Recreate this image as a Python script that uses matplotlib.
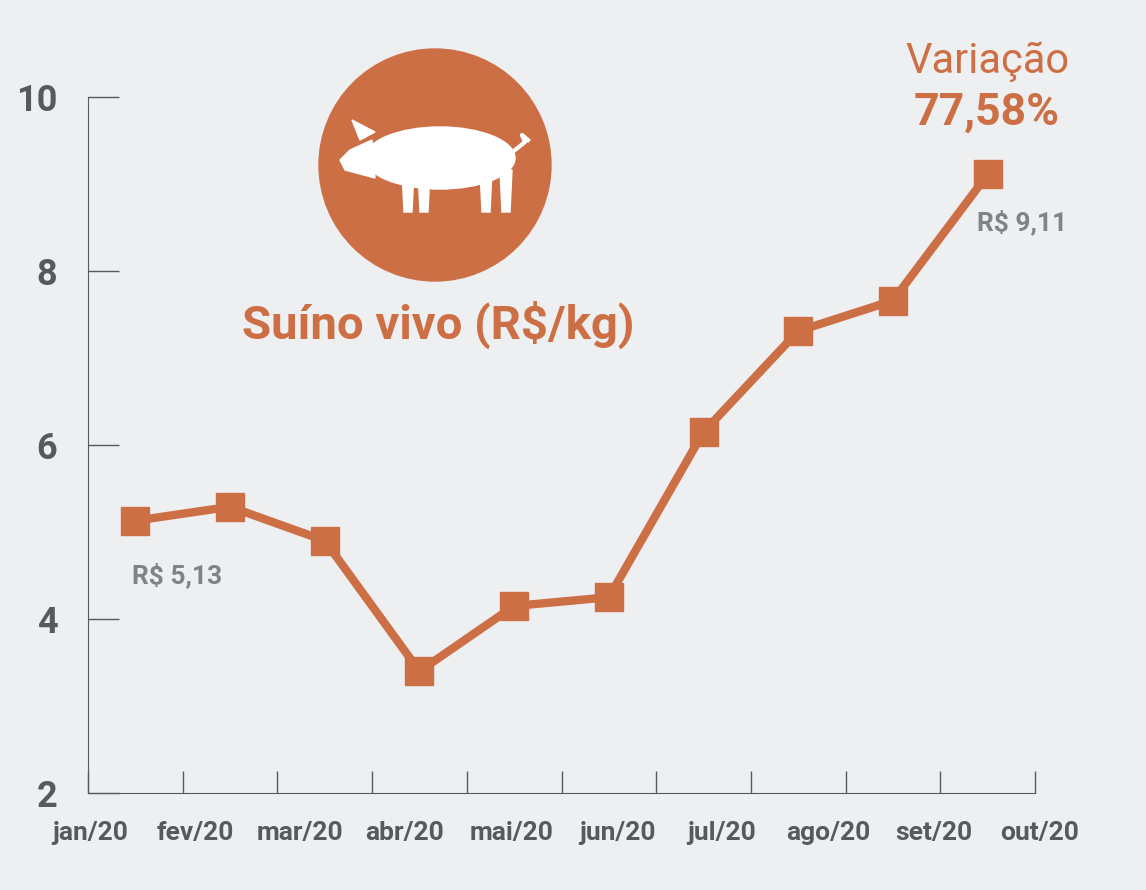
import matplotlib
matplotlib.use("Agg")
import matplotlib.pyplot as plt
from matplotlib.patches import Circle, Ellipse, Polygon
from matplotlib import font_manager

months = ["jan/20", "fev/20", "mar/20", "abr/20", "mai/20", "jun/20",
          "jul/20", "ago/20", "set/20", "out/20"]
values = [5.13, 5.29, 4.90, 3.40, 4.15, 4.25, 6.15, 7.31, 7.66, 9.11]
yticks = [2, 4, 6, 8, 10]

names = {f.name for f in font_manager.fontManager.ttflist}
fam = "Liberation Sans Narrow" if "Liberation Sans Narrow" in names else "Roboto"
plt.rcParams["font.family"] = fam

BG = "#EEEFF1"
OR = "#CD6F45"
GR = "#555A5E"

fig = plt.figure(figsize=(11.46, 8.90), dpi=100, facecolor=BG)
ax = fig.add_axes([88/1146, 1-793/890, (1035-88)/1146, (793-97)/890])
ax.set_facecolor(BG)
xs = [i + 0.5 for i in range(len(values))]
ax.plot(xs, values, color=OR, lw=6, marker="s", ms=20, zorder=3)
ax.set_xlim(0, 10)
ax.set_ylim(2, 10)
ax.set_yticks(yticks)
ax.set_yticklabels([str(v) for v in yticks], fontsize=26, fontweight="bold", color=GR)
ax.set_xticks(range(11))
ax.set_xticklabels([])
ax.tick_params(axis="y", direction="in", length=22, width=1, color=GR, pad=22)
ax.tick_params(axis="x", direction="in", length=16, width=1, color=GR)
for s in ["top", "right"]:
    ax.spines[s].set_visible(False)
for s in ["left", "bottom"]:
    ax.spines[s].set_color(GR)

label_px = [90, 195, 300, 405, 512, 617, 722, 828, 934, 1040]
for m, px in zip(months, label_px):
    fig.text(px/1146, 1-833/890, m, ha="center", va="center", fontsize=19,
             fontweight="bold", color=GR)

ax.annotate("R$ 5,13", (xs[0], values[0]), xytext=(30, -45), textcoords="offset points",
            ha="center", fontsize=19, fontweight="bold", color="#7F8387")
ax.annotate("R$ 9,11", (xs[-1], values[-1]), xytext=(25, -40), textcoords="offset points",
            ha="center", fontsize=19, fontweight="bold", color="#7F8387")
fig.text(987/1146, 1-62/890, "Variação", ha="center", va="center", fontsize=30, color=OR)
fig.text(987/1146, 1-113/890, "77,58%", ha="center", va="center", fontsize=32,
         fontweight="bold", color=OR)
fig.text(438/1146, 1-325/890, "Suíno vivo (R$/kg)", ha="center", va="center",
         fontsize=34, fontweight="bold", color=OR)

# icon in pixel coords
ov = fig.add_axes([0, 0, 1, 1], facecolor="none")
ov.set_xlim(0, 1146); ov.set_ylim(890, 0); ov.axis("off")
ov.set_aspect("auto")
ov.add_patch(Circle((435, 165), 116, color=OR))
W = "white"
ov.add_patch(Ellipse((440, 158), 150, 62, color=W))
ov.add_patch(Polygon([(372, 140), (350, 150), (340, 160), (345, 170), (375, 178)], color=W))
ov.add_patch(Polygon([(360, 140), (352, 120), (375, 132)], color=W))
for x0 in [402, 418, 480, 500]:
    ov.add_patch(Polygon([(x0, 170), (x0 + 12, 170), (x0 + 10, 212), (x0 + 2, 212)], color=W))
ov.plot([515, 525, 522, 528], [150, 142, 135, 140], color=W, lw=3)

fig.savefig("out.png", dpi=100, facecolor=BG)
